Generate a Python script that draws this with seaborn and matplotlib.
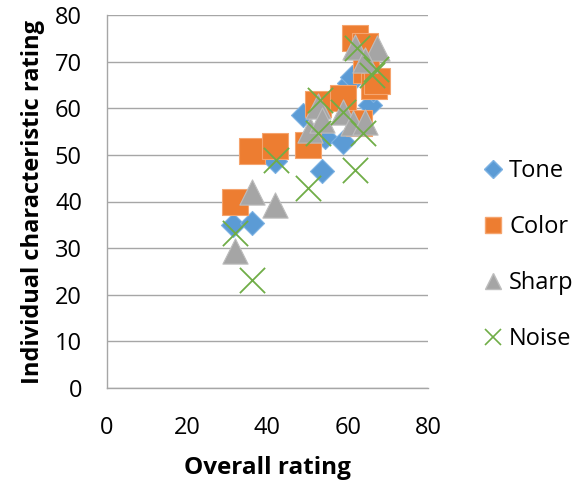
import matplotlib
matplotlib.use("Agg")
import matplotlib.pyplot as plt
import seaborn as sns
import pandas as pd
from matplotlib.lines import Line2D

# ---- data ----
tone_x = [31.5, 36.1, 41.9, 48.8, 53.5, 54.4, 58.9, 60.4, 61.0, 65.6, 66.2]
tone_y = [35.0, 35.3, 48.6, 58.6, 46.6, 53.9, 52.8, 65.4, 66.8, 60.7, 64.0]

color_x = [31.8, 36.1, 41.9, 50.0, 52.5, 58.9, 62.8, 61.8, 64.3, 64.5, 66.5, 67.2]
color_y = [40.0, 50.9, 51.9, 52.1, 60.9, 62.2, 56.8, 75.0, 73.4, 68.2, 64.7, 65.8]

sharp_x = [31.8, 36.1, 41.9, 50.6, 52.7, 53.5, 58.9, 61.4, 64.3, 61.8, 67.3, 64.3]
sharp_y = [29.3, 42.1, 39.3, 55.4, 60.4, 57.5, 59.3, 56.8, 57.1, 73.2, 72.9, 70.4]

noise_x = [31.9, 36.1, 42.1, 50.2, 52.7, 53.1, 58.9, 61.8, 63.9, 62.3, 66.0, 67.0]
noise_y = [33.2, 23.2, 48.9, 42.9, 54.6, 61.8, 59.3, 46.8, 54.6, 72.9, 67.2, 68.5]

series_names = ["Tone", "Color", "Sharp", "Noise"]
x_ticks = [0, 20, 40, 60, 80]
y_ticks = [0, 10, 20, 30, 40, 50, 60, 70, 80]

sns.set_style("white")
plt.rcParams['font.family'] = ['Open Sans', 'DejaVu Sans']

fig = plt.figure(figsize=(5.87, 4.87), dpi=100)
ax = fig.add_axes([107/587, 1-388/487, (428-107)/587, (388-15)/487])

blue = "#5B9BD5"
orange = "#ED7D31"
gray = "#A5A5A5"
green = "#70AD47"

df_t = pd.DataFrame({"x": tone_x, "y": tone_y})
df_c = pd.DataFrame({"x": color_x, "y": color_y})
df_s = pd.DataFrame({"x": sharp_x, "y": sharp_y})
df_n = pd.DataFrame({"x": noise_x, "y": noise_y})

sns.scatterplot(data=df_t, x="x", y="y", ax=ax, marker="D", s=150,
                color=blue, edgecolor="#7DB2E3", linewidth=0.8, zorder=3)
sns.scatterplot(data=df_c, x="x", y="y", ax=ax, marker="s", s=330,
                color=orange, edgecolor="#F5A46E", linewidth=0.8, zorder=4)
sns.scatterplot(data=df_s, x="x", y="y", ax=ax, marker="^", s=330,
                color=gray, edgecolor="#BDBDBD", linewidth=0.8, zorder=5)
sns.scatterplot(data=df_n, x="x", y="y", ax=ax, marker="x", s=330,
                color=green, linewidth=1.3, zorder=6)

ax.set_xlim(0, 80)
ax.set_ylim(0, 80)
ax.set_xticks(x_ticks)
ax.set_yticks(y_ticks)
ax.yaxis.grid(True, color="#A6A6A6", linewidth=1.0)
ax.xaxis.grid(False)
ax.set_axisbelow(True)
for side in ["top", "right"]:
    ax.spines[side].set_visible(False)
for side in ["left", "bottom"]:
    ax.spines[side].set_color("#A6A6A6")
    ax.spines[side].set_linewidth(1.0)

ax.tick_params(axis="y", direction="inout", length=14, width=1.0, color="#A6A6A6",
               labelsize=17, pad=11, labelcolor="black")
ax.tick_params(axis="x", direction="out", length=7, width=1.0, color="#A6A6A6",
               labelsize=17, pad=13, labelcolor="black")

ax.set_xlabel("Overall rating", fontsize=17.5, fontweight="bold", labelpad=12, color="black")
ax.set_ylabel("Individual characteristic rating", fontsize=17, fontweight="bold",
              labelpad=7, color="black")

handles = [
    Line2D([], [], linestyle="none", marker="D", markersize=9, color=blue, markeredgecolor="#7DB2E3"),
    Line2D([], [], linestyle="none", marker="s", markersize=12, color=orange, markeredgecolor="#F5A46E"),
    Line2D([], [], linestyle="none", marker="^", markersize=12, color=gray, markeredgecolor="#BDBDBD"),
    Line2D([], [], linestyle="none", marker="x", markersize=12, color=green, markeredgewidth=1.2),
]
leg = fig.legend(handles, series_names, loc="center left", bbox_to_anchor=(469/587, 1-255/487),
                 frameon=False, fontsize=17, labelspacing=1.35, handletextpad=0.1,
                 handlelength=1.2, borderaxespad=0)
for t in leg.get_texts():
    t.set_color("black")

fig.savefig("out.png", dpi=100)
